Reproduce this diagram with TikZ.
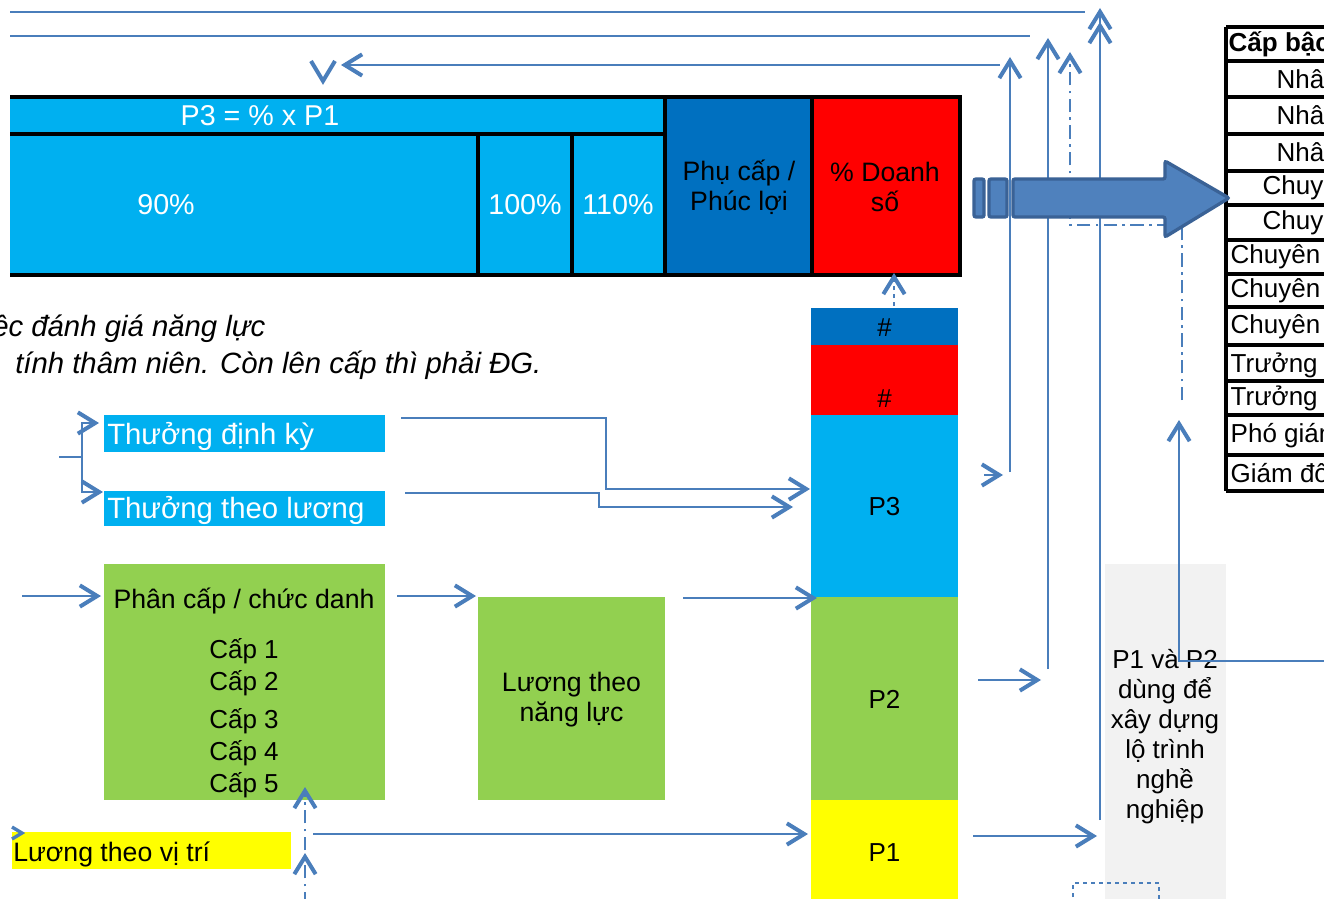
\documentclass[tikz,border=0pt]{standalone}
\usepackage{fontspec}
\setmainfont{Liberation Sans}
\usetikzlibrary{arrows.meta,fit}
\definecolor{cy}{HTML}{00B0F0}
\definecolor{bl}{HTML}{0070C0}
\definecolor{gr}{HTML}{92D050}
\definecolor{ye}{HTML}{FFFF00}
\definecolor{rd}{HTML}{FF0000}
\definecolor{ln}{HTML}{4A7EBB}
\definecolor{af}{HTML}{4F81BD}
\definecolor{ab}{HTML}{3A6296}
\definecolor{gy}{HTML}{F2F2F2}
\tikzset{
  cell/.style={inner sep=0pt, outer sep=0pt},
  txt/.style={inner sep=0pt, align=center},
  conn/.style={draw=ln, line width=1.4pt},
  arr/.style={conn, -{Straight Barb[length=13pt,width=16pt,line width=3pt]}},
  barb/.style={draw=ln, line width=3pt},
  dd/.style={dash pattern=on 10pt off 4pt on 2pt off 4pt},
  grid/.style={draw=black, line width=2.3pt},
  fA/.style={font=\fontsize{20}{22.5}\selectfont},
  fW/.style={font=\fontsize{21.5}{24}\selectfont},
  fB/.style={font=\fontsize{19.5}{22.5}\selectfont},
  fC/.style={font=\fontsize{22}{26}\selectfont},
  fI/.style={font=\fontsize{22}{26}\selectfont\itshape},
}
\begin{document}
\begin{tikzpicture}[x=0.75pt,y=-0.75pt]
\useasboundingbox (0,0) rectangle (1324,899);
\clip (0,0) rectangle (1324,899);
\fill[white] (0,0) rectangle (1324,899);

% ---------- top table ----------
\node[cell, fill=cy, fit={(10,97) (665,134)}] (p3f) {};
\node[cell, fill=cy, fit={(10,134) (478,275)}] (c90) {};
\node[cell, fill=cy, fit={(478,134) (572,275)}] (c100) {};
\node[cell, fill=cy, fit={(572,134) (665,275)}] (c110) {};
\node[cell, fill=bl, fit={(665,97) (812,275)}] (pc) {};
\node[cell, fill=rd, fit={(812,97) (960,275)}] (ds) {};
\node[txt, fW, text=white] at (260,116) {P3 = \% x P1};
\node[txt, fW, text=white] at (166,205) {90\%};
\node[txt, fW, text=white] at (525,205) {100\%};
\node[txt, fW, text=white] at (618,205) {110\%};
\node[txt, fA] at (739,187) {Phụ cấp /\\Phúc lợi};
\node[txt, fA] at (885,187) {\% Doanh\\số};
\draw[grid] (10,97)--(960,97)--(960,275)--(10,275);
\draw[grid] (10,134)--(665,134);
\draw[grid] (478,134)--(478,275);
\draw[grid] (572,134)--(572,275);
\draw[grid] (665,97)--(665,275);
\draw[grid] (812,97)--(812,275);

% ---------- right table ----------
\foreach \yy in {27,61,97,134,171,205,240,274,307,345,381,415,455,491}
  \draw[grid] (1226,\yy)--(1340,\yy);
\draw[grid] (1226,27)--(1226,491);
\node[anchor=west, font=\fontsize{19.5}{22.5}\selectfont\bfseries] (h0) at (1224,44) {Cấp bậc};
\node[fB, anchor=west] (r1) at (1272,79) {Nhân};
\node[fB, anchor=west] (r2) at (1272,115.5) {Nhân};
\node[fB, anchor=west] (r3) at (1272,152.5) {Nhân};
\node[fB, anchor=west] (r4) at (1258,188) {Chuyên};
\node[fB, anchor=west] (r5) at (1258,222.5) {Chuyên};
\node[fB, anchor=west] (r6) at (1226,257) {Chuyên};
\node[fB, anchor=west] (r7) at (1226,290.5) {Chuyên};
\node[fB, anchor=west] (r8) at (1226,327) {Chuyên};
\node[fB, anchor=west] (r9) at (1226,365) {Trưởng};
\node[fB, anchor=west] (r10) at (1226,398) {Trưởng};
\node[fB, anchor=west] (r11) at (1226,436) {Phó giám};
\node[fB, anchor=west] (r12) at (1226,473) {Giám đốc};

% ---------- italic note ----------
\node[fI, anchor=base west, inner sep=0pt] (n1) at (-8,336) {ệc đánh giá năng lực};
\node[fI, anchor=base west, inner sep=0pt] (n2) at (15,373) {tính thâm niên. Còn lên cấp thì phải ĐG.};

% ---------- left boxes ----------
\node[cell, fill=cy, fit={(104,415) (385,452)}] (tdk) {};
\node[fC, text=white, anchor=west, inner sep=0pt] at (107,436) {Thưởng định kỳ};
\node[cell, fill=cy, fit={(104,491) (385,526)}] (ttl) {};
\node[fC, text=white, anchor=west, inner sep=0pt] at (107,510) {Thưởng theo lương};

\node[cell, fill=gr, fit={(104,564) (385,800)}] (pcd) {};
\node[fA, anchor=base] at (244,608) {Phân cấp / chức danh};
\node[fB, anchor=base] at (244,658) {Cấp 1};
\node[fB, anchor=base] at (244,690) {Cấp 2};
\node[fB, anchor=base] at (244,728) {Cấp 3};
\node[fB, anchor=base] at (244,760) {Cấp 4};
\node[fB, anchor=base] at (244,792) {Cấp 5};

\node[cell, fill=gr, fit={(478,597) (665,800)}] (lnl) {};
\node[txt, fA] at (571.5,700) {Lương theo\\năng lực};

\node[cell, fill=ye, fit={(12,832) (291,869)}] (lvt) {};
\node[anchor=west, inner sep=0pt, font=\fontsize{20}{24}\selectfont] at (13,854) {Lương theo vị trí};

% ---------- column ----------
\node[cell, fill=bl, fit={(811,308) (958,345)}] (h1) {};
\node[cell, fill=rd, fit={(811,345) (958,415)}] (h2) {};
\node[cell, fill=cy, fit={(811,415) (958,597)}] (P3) {};
\node[cell, fill=gr, fit={(811,597) (958,800)}] (P2) {};
\node[cell, fill=ye, fit={(811,800) (958,905)}] (P1) {};
\node[txt, fB] at (884.5,328) {\#};
\node[txt, fB] at (884.5,399) {\#};
\node[txt, fB] at (884.5,507) {P3};
\node[txt, fB] at (884.5,699) {P2};
\node[txt, fB] at (884.5,853) {P1};

% ---------- gray note ----------
\node[cell, fill=gy, fit={(1105,564) (1226,905)}] (gbox) {};
\node[txt, fB] (gt) at (1165,737) {P1 và P2\\dùng để\\xây dựng\\lộ trình\\nghề\\nghiệp};
\draw[ln, line width=1.5pt, dashed] (1073,905)--(1073,883)--(1159,883)--(1159,905);

% ---------- coordinates ----------
\coordinate (a1) at (401,418);
\coordinate (a1t) at (810,489);
\coordinate (a2) at (405,493);
\coordinate (a2t) at (793,507);
\coordinate (b0) at (59,457);
\coordinate (b1) at (82,457);
\coordinate (pin) at (101,596);

% ---------- top lines ----------
\draw[conn] (10,12)--(1085,12);
\draw[conn] (10,36)--(1030,36);
\draw[arr] (1000,65)--(341,65);
\draw[barb] (311,61)--(323,81)--(335,61);

\draw[arr] (1010,472)--(1010,57);
\draw[arr] (1048,669)--(1048,38);
\draw[arr, dd] (1182,400)--(1182,225)--(1070,225)--(1070,52);
\draw[arr] (1100,820)--(1100,8);
\draw[arr] (1100,40)--(1100,22);

\draw[arr] (984,475)--(1003,475);
\draw[arr] (978,680)--(1041,680);
\draw[arr] (973,836)--(1097,836);
\draw[arr] (1330,661)--(1179,661)--(1179,420);
\draw[arr, dashed] (894,306)--(894,273);

% ---------- left connectors ----------
\draw[conn] (b0)--(b1);
\draw[arr] (b1)--(82,423)--(99,423);
\draw[arr] (b1)--(82,492)--(103,492);
\draw[arr] (a1)--(606,418)--(606,489)--(a1t);
\draw[arr] (a2)--(599,493)--(599,507)--(a2t);
\draw[arr] (22,596)--(pin);
\draw[arr] (397,596)--(476,596);
\draw[arr] (683,598)--(817,598);
\draw[arr] (313,834)--(808,834);
\draw[barb, line width=2.5pt] (12,827)--(22,833)--(12,839);
\draw[arr, dd] (305,850)--(305,787);
\draw[arr, dd] (305,905)--(305,853);

% ---------- big arrow ----------
\draw[fill=af, draw=ab, line width=2.5pt, rounded corners=1.5pt]
  (1013,179) -- (1165,179) -- (1165,161) -- (1229,198) -- (1165,237) -- (1165,217) -- (1013,217) -- cycle;
\draw[fill=af, draw=ab, line width=2.5pt, rounded corners=1.5pt] (974,179) rectangle (984,217);
\draw[fill=af, draw=ab, line width=2.5pt, rounded corners=1.5pt] (989,179) rectangle (1007,217);
\end{tikzpicture}
\end{document}
